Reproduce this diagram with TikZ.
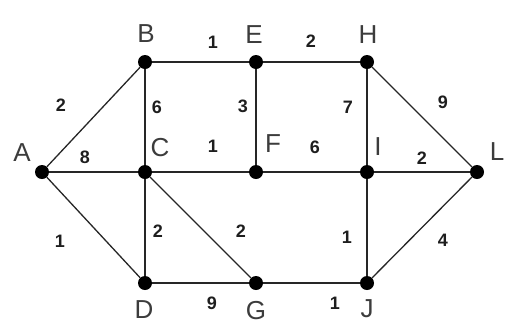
\documentclass[tikz,border=0pt]{standalone}
\usepackage{fontspec}
\setmainfont{Liberation Sans}
\usepackage{xcolor}
\usepackage{tikz}
\usetikzlibrary{positioning}
\definecolor{vertgray}{HTML}{3C3C3C}
\definecolor{wtblack}{HTML}{1E1E1E}
\tikzset{
  vertex/.style={circle,fill=black,inner sep=0pt,minimum size=14pt},
  vname/.style={font=\fontsize{26}{26}\selectfont,text=vertgray,inner sep=0pt},
  weight/.style={font=\fontsize{18}{18}\selectfont\bfseries,text=wtblack,inner sep=0pt},
  edge/.style={line width=2pt,draw=black!85},
  diag/.style={line width=1.3pt,draw=black!85}
}

\begin{document}
\begin{tikzpicture}[x=1pt,y=-1pt]
  \useasboundingbox (0,0) rectangle (509,325);

  % vertices
  \node[vertex] (A) at (42,172) {};
  \node[vertex] (B) at (145,62) {};
  \node[vertex] (C) at (145,172) {};
  \node[vertex] (D) at (145,283) {};
  \node[vertex] (E) at (256,62) {};
  \node[vertex] (F) at (256,172) {};
  \node[vertex] (G) at (256,283) {};
  \node[vertex] (H) at (367,62) {};
  \node[vertex] (I) at (367,172) {};
  \node[vertex] (J) at (367,283) {};
  \node[vertex] (L) at (477,172) {};

  % edges
  \draw[diag] (A) -- (B);
  \draw[edge] (A) -- (C);
  \draw[diag] (A) -- (D);
  \draw[edge] (B) -- (E);
  \draw[edge] (B) -- (C);
  \draw[edge] (E) -- (H);
  \draw[edge] (E) -- (F);
  \draw[edge] (C) -- (F);
  \draw[edge] (C) -- (D);
  \draw[diag] (C) -- (G);
  \draw[edge] (F) -- (I);
  \draw[edge] (H) -- (I);
  \draw[diag] (H) -- (L);
  \draw[edge] (I) -- (L);
  \draw[edge] (I) -- (J);
  \draw[edge] (D) -- (G);
  \draw[edge] (G) -- (J);
  \draw[diag] (J) -- (L);

  % vertex names
  \node[vname] (nA) at (22,153) {A};
  \node[vname] (nB) at (146,34) {B};
  \node[vname] (nC) at (160,148) {C};
  \node[vname] (nD) at (144,310) {D};
  \node[vname] (nE) at (254,35) {E};
  \node[vname] (nF) at (273,144) {F};
  \node[vname] (nG) at (256,311) {G};
  \node[vname] (nH) at (368,35) {H};
  \node[vname] (nI) at (378,147) {I};
  \node[vname] (nJ) at (367,309) {J};
  \node[vname] (nL) at (497,152) {L};

  % weights
  \node[weight] (wAB) at (61,105) {2};
  \node[weight] (wAC) at (85,157) {8};
  \node[weight] (wAD) at (60,241) {1};
  \node[weight] (wBC) at (157,107) {6};
  \node[weight] (wBE) at (213,42) {1};
  \node[weight] (wEF) at (243,106) {3};
  \node[weight] (wCF) at (213,146) {1};
  \node[weight] (wEH) at (311,41) {2};
  \node[weight] (wHI) at (348,107) {7};
  \node[weight] (wHL) at (443,102) {9};
  \node[weight] (wFI) at (315,147) {6};
  \node[weight] (wIL) at (422,158) {2};
  \node[weight] (wCD) at (158,231) {2};
  \node[weight] (wCG) at (241,231) {2};
  \node[weight] (wDG) at (212,303) {9};
  \node[weight] (wIJ) at (347,237) {1};
  \node[weight] (wJL) at (443,240) {4};
  \node[weight] (wGJ) at (335,303) {1};
\end{tikzpicture}
\end{document}
